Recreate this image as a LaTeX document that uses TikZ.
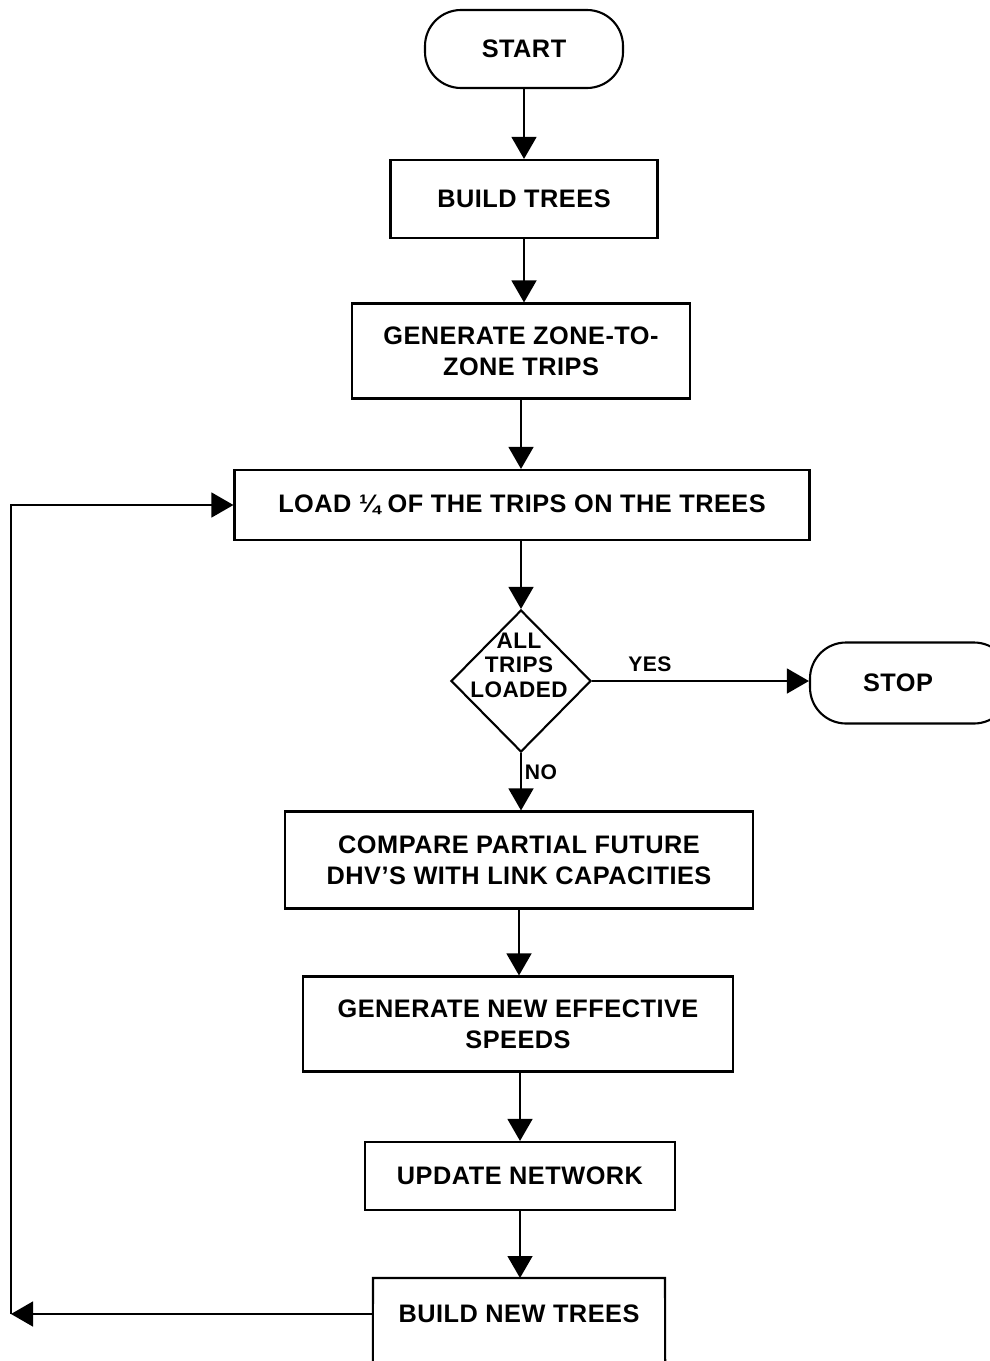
\documentclass[tikz,border=0pt]{standalone}
\usepackage{fontspec}
\setmainfont{Liberation Sans}[LetterSpace=2]
\usetikzlibrary{arrows.meta,shapes.geometric}
\newcommand\pxu{0.025cm}
\tikzset{
  line/.style={line width=1.5pt, black},
  arr/.style={line, -{Triangle[width=0.62cm,length=0.55cm]}},
  boxtext/.style={font=\bfseries\fontsize{18}{22}\selectfont, align=center},
  procbox/.style={draw, line width=1.5pt, boxtext, inner sep=0pt},
  termbox/.style={procbox, rounded corners=0.9cm},
  lbl/.style={font=\bfseries\fontsize{15}{18}\selectfont},
  dectxt/.style={font=\bfseries\fontsize{16}{17.5}\selectfont, align=center}
}
\begin{document}
\begin{tikzpicture}[x=\pxu, y=-\pxu]
\useasboundingbox (0,0) rectangle (990,1361);
\fill[white] (0,0) rectangle (990,1361);

\node[termbox, minimum width={198*\pxu}, minimum height={78*\pxu}] (start) at (524,49) {START};
\node[procbox, minimum width={267*\pxu}, minimum height={78*\pxu}] (bt) at (524,199) {BUILD TREES};
\node[procbox, minimum width={338*\pxu}, minimum height={95*\pxu}] (gz) at (521,351) {GENERATE ZONE-TO-\\ZONE TRIPS};
\node[procbox, minimum width={575*\pxu}, minimum height={70*\pxu}] (load) at (522,505) {LOAD ¼ OF THE TRIPS ON THE TREES};
\node[draw, line width=1.5pt, shape=diamond, inner sep=0pt, minimum width={140*\pxu}, minimum height={142*\pxu}] (dec) at (521,681) {};
\node[dectxt] (dect) at (519,665) {ALL\\TRIPS\\LOADED};
\node[termbox, minimum width={200*\pxu}, minimum height={81*\pxu}] (stop) at (910,683) {\hspace*{-0.6cm}STOP};
\node[procbox, minimum width={468*\pxu}, minimum height={97*\pxu}] (cmp) at (519,860) {COMPARE PARTIAL FUTURE\\DHV'S WITH LINK CAPACITIES};
\node[procbox, minimum width={430*\pxu}, minimum height={95*\pxu}] (gns) at (518,1024) {GENERATE NEW EFFECTIVE\\SPEEDS};
\node[procbox, minimum width={310*\pxu}, minimum height={68*\pxu}] (upd) at (520,1176) {UPDATE NETWORK};
\node[boxtext, minimum width={292*\pxu}, minimum height={72*\pxu}, inner sep=0pt] (bnt) at (519,1314) {BUILD NEW TREES};
\draw[line] (bnt.west |- 0,1400) -- (373,1278) -- (665,1278) -- (bnt.east |- 0,1400);
\coordinate (bntn) at (520,1278);

\node[lbl] (yes) at (650,664) {YES};
\node[lbl] (no) at (541,772) {NO};

\draw[arr] (start) -- (bt);
\draw[arr] (bt.south) -- (bt.south |- gz.north);
\draw[arr] (gz) -- (gz |- load.north);
\draw[arr] (load.south -| dec) -- (dec.north);
\draw[arr] (dec.east) -- (dec.east -| stop.west);
\draw[arr] (dec.south) -- (dec.south |- cmp.north);
\draw[arr] (cmp.south) -- (cmp.south |- gns.north);
\draw[arr] (gns.south -| upd) -- (upd.north);
\draw[arr] (upd.south) -- (bntn);

\coordinate (lb) at (11,1314);
\coordinate (lt) at (11,505);
\draw[arr] (bnt.west) -- (lb);
\draw[arr] (lb) -- (lt) -- (load.west);
\end{tikzpicture}
\end{document}
